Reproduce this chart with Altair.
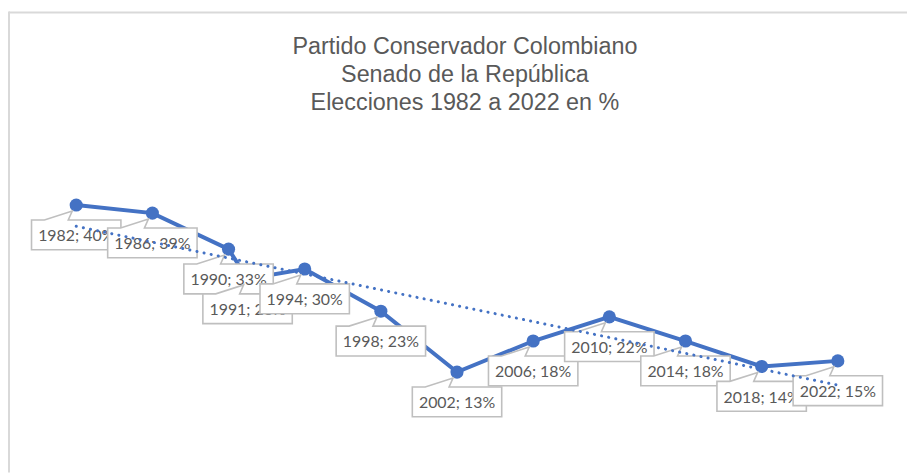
import altair as alt
import pandas as pd

# ---- data ----
years = [1982, 1986, 1990, 1991, 1994, 1998, 2002, 2006, 2010, 2014, 2018, 2022]
pct = [39.9, 38.6, 32.8, 28.0, 29.6, 22.8, 13.0, 18.0, 21.9, 18.0, 13.9, 14.8]
title_lines = [
    "Partido Conservador Colombiano",
    "Senado de la República",
    "Elecciones 1982 a 2022 en %",
]

df = pd.DataFrame({"year": years, "pct": pct})
df["label"] = [f"{y}; {round(p)}%" for y, p in zip(years, pct)]

W, H = 905, 466
BLUE = "#4472C4"
GREY_TXT = "#595959"

X = alt.X("year:Q", scale=alt.Scale(domain=[1978.417, 2025.634], nice=False, zero=False), axis=None)
Y = alt.Y("pct:Q", scale=alt.Scale(domain=[-3.17, 71.39], nice=False, zero=False), axis=None)

base = alt.Chart(df)

# callout shape (pixel units when size=4): box below the point with a wedge pointing up-right
CALLOUT = "M -45 15 L -32 15 L -4 6 L -8 15 L 45 15 L 45 45 L -45 45 Z"

one = alt.Data(values=[{}])

border_top = alt.Chart(one).mark_rule(color="#D9D9D9", strokeWidth=2).encode(
    x=alt.value(1), x2=alt.value(W), y=alt.value(3)
)
border_left = alt.Chart(one).mark_rule(color="#D9D9D9", strokeWidth=2).encode(
    x=alt.value(1), y=alt.value(2), y2=alt.value(H)
)

title = alt.Chart(one).mark_text(
    text=title_lines,
    font="Liberation Sans",
    fontSize=23.5,
    lineHeight=28,
    color=GREY_TXT,
    align="center",
    baseline="alphabetic",
).encode(x=alt.value(460), y=alt.value(45))

line = base.mark_line(color=BLUE, strokeWidth=4).encode(x=X, y=Y)
points = base.mark_circle(color=BLUE, size=175, opacity=1).encode(x=X, y=Y)

label_layers = []
for yr in years:
    sub = base.transform_filter(alt.datum.year == yr)
    box = sub.mark_point(
        shape=CALLOUT, size=4, filled=True, fill="white",
        stroke="#BFBFBF", strokeWidth=1.6, opacity=1,
    ).encode(x=X, y=Y)
    txt = sub.mark_text(
        font="Lato", fontSize=16, color=GREY_TXT, align="center",
        baseline="alphabetic", dy=36.5,
    ).encode(x=X, y=Y, text="label:N")
    label_layers += [box, txt]

trend = base.transform_regression("year", "pct", method="linear").mark_line(
    color=BLUE, strokeWidth=3, strokeDash=[0.1, 7.2], strokeCap="round"
).encode(x=X, y=Y)

chart = alt.layer(
    border_top, border_left, title, line, points, *label_layers, trend
).properties(
    width=W, height=H, padding=0,
    autosize=alt.AutoSizeParams(type="none"),
    background="white",
).configure_view(stroke=None)

chart.save("out.html", embed_options={"renderer": "svg", "actions": False})
